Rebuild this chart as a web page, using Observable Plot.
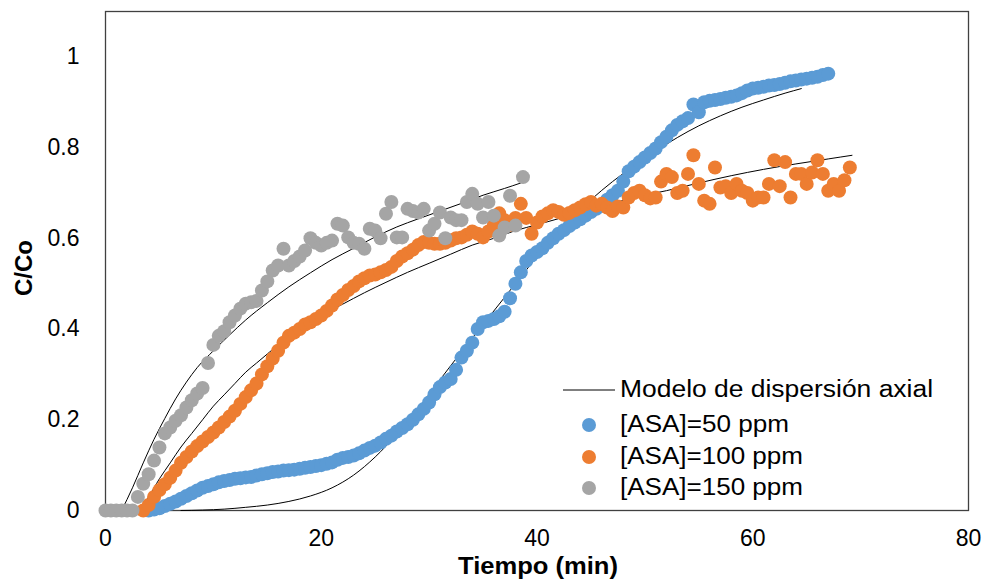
<!DOCTYPE html>
<html><head><meta charset="utf-8">
<script src="https://cdn.jsdelivr.net/npm/d3@7"></script>
<script src="https://cdn.jsdelivr.net/npm/@observablehq/plot@0.6"></script>
<style>
html,body{margin:0;padding:0;background:#fff;}
#wrap{position:relative;width:986px;height:580px;font-family:"Liberation Sans",Arial,sans-serif;}
#overlay{position:absolute;left:0;top:0;pointer-events:none;}
</style></head><body><div id="wrap"></div>
<script>
const xTicks = [0, 20, 40, 60, 80];
const yTicks = [0, 0.2, 0.4, 0.6, 0.8, 1];
const xLabel = "Tiempo (min)";
const yLabel = "C/Co";
const modelName = "Modelo de dispersión axial";
const seriesNames = ["[ASA]=50 ppm", "[ASA]=100 ppm", "[ASA]=150 ppm"];
const colors = ["#5B9BD5", "#ED7D31", "#A5A5A5"];

// measured points [t (min), C/Co]
const asa50 = [[4,0],[4.5,0.002],[5,0.005],[5.5,0.01],[6,0.015],[6.5,0.02],[7,0.026],[7.5,0.032],[8,0.038],[8.5,0.044],[9,0.05],[9.5,0.054],[10,0.058],[10.5,0.062],[11,0.065],[11.5,0.067],[12,0.07],[12.5,0.071],[13,0.073],[13.5,0.074],[14,0.077],[14.5,0.08],[15,0.082],[15.5,0.085],[16,0.086],[16.5,0.088],[17,0.089],[17.5,0.09],[18,0.092],[18.5,0.094],[19,0.096],[19.5,0.098],[20,0.1],[20.5,0.103],[21,0.106],[21.5,0.112],[22,0.116],[22.5,0.118],[23,0.121],[23.5,0.126],[24,0.132],[24.5,0.138],[25,0.143],[25.5,0.15],[26,0.158],[26.5,0.165],[27,0.174],[27.5,0.182],[28,0.19],[28.5,0.2],[29,0.212],[29.5,0.224],[30,0.238],[30.5,0.256],[31,0.272],[31.5,0.282],[32,0.29],[32.5,0.31],[33,0.337],[33.5,0.352],[34,0.37],[34.5,0.4],[35,0.415],[35.5,0.418],[36,0.422],[36.5,0.428],[37,0.438],[37.5,0.468],[38,0.5],[38.5,0.525],[39,0.55],[39.5,0.562],[40,0.57],[40.5,0.578],[41,0.59],[41.5,0.6],[42,0.61],[42.5,0.618],[43,0.627],[43.5,0.635],[44,0.642],[44.5,0.65],[45,0.658],[45.5,0.665],[46,0.672],[46.5,0.685],[47,0.695],[47.5,0.705],[48,0.725],[48.5,0.748],[49,0.758],[49.5,0.768],[50,0.778],[50.5,0.788],[51,0.798],[51.5,0.812],[52,0.824],[52.5,0.838],[53,0.85],[53.5,0.858],[54,0.865],[54.5,0.895],[55,0.878],[55.5,0.9],[56,0.903],[56.5,0.905],[57,0.907],[57.5,0.91],[58,0.912],[58.5,0.915],[59,0.92],[59.5,0.926],[60,0.93],[60.5,0.932],[61,0.934],[61.5,0.937],[62,0.938],[62.5,0.94],[63,0.943],[63.5,0.946],[64,0.948],[64.5,0.95],[65,0.952],[65.5,0.954],[66,0.956],[66.5,0.96],[67,0.963]];

const asa100 = [[3.5,0],[4,0.012],[4.5,0.03],[5,0.045],[5.5,0.058],[6,0.072],[6.5,0.088],[7,0.105],[7.5,0.118],[8,0.13],[8.5,0.142],[9,0.152],[9.5,0.162],[10,0.172],[10.5,0.183],[11,0.195],[11.5,0.207],[12,0.22],[12.5,0.235],[13,0.25],[13.5,0.265],[14,0.28],[14.5,0.3],[15,0.318],[15.5,0.335],[16,0.352],[16.5,0.37],[17,0.385],[17.5,0.392],[18,0.4],[18.5,0.41],[19,0.415],[19.5,0.422],[20,0.43],[20.5,0.44],[21,0.452],[21.5,0.465],[22,0.475],[22.5,0.486],[23,0.495],[23.5,0.505],[24,0.512],[24.5,0.518],[25,0.52],[25.5,0.525],[26,0.53],[26.5,0.537],[27,0.55],[27.5,0.56],[28,0.567],[28.5,0.575],[29,0.585],[29.5,0.592],[30,0.59],[30.5,0.588],[31,0.588],[31.5,0.59],[32,0.595],[32.5,0.6],[33,0.602],[33.5,0.608],[34,0.615],[34.5,0.61],[35,0.602],[35.5,0.615],[36,0.63],[36.5,0.655],[37,0.64],[37.5,0.63],[38,0.645],[38.5,0.676],[39,0.645],[39.5,0.61],[40,0.635],[40.5,0.648],[41,0.655],[41.5,0.662],[42,0.658],[42.5,0.652],[43,0.656],[43.5,0.662],[44,0.668],[44.5,0.675],[45,0.68],[45.5,0.672],[46,0.676],[46.5,0.668],[47,0.66],[47.5,0.67],[48,0.668],[48.5,0.69],[49,0.7],[49.5,0.705],[50,0.695],[50.5,0.688],[51,0.69],[51.5,0.725],[52,0.742],[52.5,0.735],[53,0.7],[53.5,0.705],[54,0.742],[54.5,0.783],[55,0.72],[55.5,0.683],[56,0.676],[56.5,0.756],[57,0.712],[57.5,0.715],[58,0.7],[58.5,0.72],[59,0.705],[59.5,0.7],[60,0.683],[60.5,0.69],[61,0.69],[61.5,0.72],[62,0.772],[62.5,0.715],[63,0.768],[63.5,0.69],[64,0.742],[64.5,0.742],[65,0.72],[65.5,0.745],[66,0.772],[66.5,0.742],[67,0.705],[67.5,0.72],[68,0.705],[68.5,0.728],[69,0.756]];

const asa150 = [[0,0],[0.5,0],[1,0],[1.5,0],[2,0],[2.5,0],[3,0.03],[3.5,0.059],[4,0.08],[4.5,0.11],[5,0.139],[5.5,0.17],[6,0.183],[6.5,0.198],[7,0.21],[7.5,0.227],[8,0.243],[8.5,0.258],[9,0.27],[9.5,0.325],[10,0.365],[10.5,0.385],[11,0.395],[11.5,0.415],[12,0.43],[12.5,0.445],[13,0.456],[13.5,0.459],[14,0.462],[14.5,0.485],[15,0.505],[15.5,0.529],[16,0.54],[16.5,0.577],[17,0.54],[17.5,0.55],[18,0.56],[18.5,0.573],[19,0.6],[19.5,0.59],[20,0.584],[20.5,0.59],[21,0.595],[21.5,0.632],[22,0.628],[22.5,0.602],[23,0.59],[23.5,0.588],[24,0.577],[24.5,0.621],[25,0.617],[25.5,0.6],[26,0.654],[26.5,0.68],[27,0.602],[27.5,0.602],[28,0.665],[28.5,0.66],[29,0.657],[29.5,0.665],[30,0.617],[30.5,0.632],[31,0.657],[31.5,0.6],[32,0.646],[32.5,0.64],[33,0.64],[33.5,0.68],[34,0.698],[34.5,0.676],[35,0.646],[35.5,0.68],[36,0.65],[36.5,0.606],[37,0.624],[37.5,0.694],[38,0.628],[38.7,0.735]];

// axial dispersion model curves [t, C/Co]
const model50 = [[7,0],[9,0.001],[11,0.003],[13,0.007],[15,0.012],[17,0.02],[19,0.032],[21,0.05],[23,0.078],[25,0.118],[27,0.168],[29,0.225],[31,0.288],[33,0.35],[35,0.41],[37,0.47],[39,0.53],[41,0.588],[43,0.64],[45,0.685],[47,0.725],[49,0.76],[51,0.792],[53,0.822],[55,0.848],[57,0.87],[59,0.889],[61,0.905],[63,0.92],[64.5,0.93]];
const model100 = [[3,0],[4,0.03],[5,0.07],[6,0.105],[7,0.14],[8,0.17],[9,0.2],[10,0.23],[11,0.255],[12,0.28],[13,0.305],[14,0.325],[15,0.345],[16,0.365],[17,0.383],[18,0.4],[20,0.43],[22,0.455],[24,0.48],[26,0.503],[28,0.525],[30,0.545],[32,0.565],[34,0.585],[36,0.6],[38,0.617],[40,0.63],[43,0.65],[46,0.67],[49,0.69],[52,0.705],[55,0.722],[58,0.738],[61,0.752],[64,0.764],[67,0.775],[69.2,0.783]];
const model150 = [[1.5,0],[2.5,0.05],[3.5,0.105],[4.5,0.157],[5.5,0.203],[6.5,0.246],[7.5,0.283],[8.5,0.315],[10,0.352],[11.5,0.387],[13,0.42],[15,0.458],[17,0.493],[19,0.524],[21,0.553],[23,0.578],[25,0.603],[27,0.625],[29,0.643],[31,0.66],[33,0.677],[35,0.695],[37,0.71],[38.5,0.722]];

const measured = [asa50, asa100, asa150];
const models = [model50, model100, model150];
const points = measured.flatMap((arr, i) => arr.map(([t, c]) => ({t, c, s: seriesNames[i]})));
const lines = models.flatMap((arr, i) => arr.map(([t, c]) => ({t, c, s: seriesNames[i]})));

const chart = Plot.plot({
  width: 986, height: 580,
  marginLeft: 105, marginRight: 18, marginTop: 11, marginBottom: 70,
  style: {fontFamily: '"Liberation Sans", Arial, sans-serif', fontSize: "23px", color: "#000", background: "#fff"},
  x: {domain: [0, 80]},
  y: {domain: [0, 1.1]},
  color: {domain: seriesNames, range: colors},
  marks: [
    Plot.frame({stroke: "#404040", strokeWidth: 1.3}),
    Plot.axisX({ticks: xTicks, tickSize: 0, tickPadding: 19, fontSize: 23, label: null, tickFormat: d => String(d)}),
    Plot.axisY({ticks: yTicks, tickSize: 0, tickPadding: 26, fontSize: 23, label: null, tickFormat: d => String(d)}),
    Plot.line(lines, {x: "t", y: "c", z: "s", stroke: "#000", strokeWidth: 1, curve: "monotone-x"}),
    Plot.dot(points, {x: "t", y: "c", fill: "s", r: 7, stroke: "none"})
  ]
});
const wrap = document.getElementById("wrap");
wrap.appendChild(chart);

// titles and legend overlay
const ov = d3.select(wrap).append("svg").attr("id", "overlay").attr("width", 986).attr("height", 580)
  .style("font-family", '"Liberation Sans", Arial, sans-serif');
ov.append("text").attr("x", 538).attr("y", 574).attr("text-anchor", "middle")
  .attr("font-weight", "bold").attr("font-size", 23).attr("textLength", 160).attr("lengthAdjust", "spacingAndGlyphs").text(xLabel);
ov.append("text").attr("transform", "translate(32,268) rotate(-90)").attr("text-anchor", "middle")
  .attr("font-weight", "bold").attr("font-size", 24).text(yLabel);

const lg = ov.append("g");
lg.append("line").attr("x1", 563).attr("x2", 615).attr("y1", 390).attr("y2", 390).attr("stroke", "#000").attr("stroke-width", 1);
lg.append("text").attr("x", 620).attr("y", 391).attr("dominant-baseline", "middle").attr("font-size", 23)
  .attr("textLength", 313).attr("lengthAdjust", "spacingAndGlyphs").text(modelName);
const lgY = [425, 457, 488];
const lgW = [169, 183, 183];
seriesNames.forEach((name, i) => {
  lg.append("circle").attr("cx", 589).attr("cy", lgY[i]).attr("r", 7).attr("fill", colors[i]);
  lg.append("text").attr("x", 620).attr("y", lgY[i] + 1).attr("dominant-baseline", "middle").attr("font-size", 23)
    .attr("textLength", lgW[i]).attr("lengthAdjust", "spacingAndGlyphs").text(name);
});
</script></body></html>
